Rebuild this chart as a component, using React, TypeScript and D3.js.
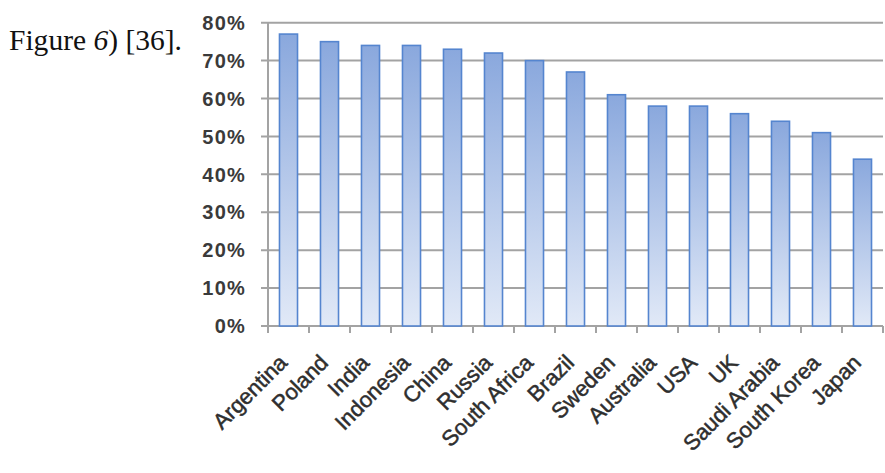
import React from "react";
import * as d3 from "d3";

const categories = [
  "Argentina", "Poland", "India", "Indonesia", "China", "Russia", "South Africa",
  "Brazil", "Sweden", "Australia", "USA", "UK", "Saudi Arabia", "South Korea", "Japan",
];
const values = [77, 75, 74, 74, 73, 72, 70, 67, 61, 58, 58, 56, 54, 51, 44];
const yTicks = [0, 10, 20, 30, 40, 50, 60, 70, 80];

const W = 885;
const H = 473;
const plot = { left: 268, right: 883, top: 22.7, bottom: 326 };

export default function App() {
  const x = d3
    .scaleBand<string>()
    .domain(categories)
    .range([plot.left, plot.right])
    .paddingInner(0.56)
    .paddingOuter(0.28);
  const step = (plot.right - plot.left) / categories.length;
  const y = d3.scaleLinear().domain([0, 80]).range([plot.bottom, plot.top]);

  const gridColor = "#a3a3a3";

  return (
    <svg
      width={W}
      height={H}
      style={{ position: "absolute", left: 0, top: 0, background: "#fff" }}
    >
      <defs>
        <linearGradient id="barFill" x1="0" y1="0" x2="0" y2="1">
          <stop offset="0%" stopColor="#8aa8dd" />
          <stop offset="100%" stopColor="#e1e9f7" />
        </linearGradient>
      </defs>

      <text
        x={9}
        y={50}
        fontFamily="'Liberation Serif', 'Times New Roman', serif"
        fontSize={29}
        textLength={173}
        lengthAdjust="spacingAndGlyphs"
        fill="#111"
      >
        Figure <tspan fontStyle="italic">6</tspan>) [36].
      </text>

      {/* horizontal gridlines and left ticks */}
      {yTicks.map((t) => (
        <line
          key={`g${t}`}
          x1={plot.left - 7}
          x2={plot.right}
          y1={y(t)}
          y2={y(t)}
          stroke={gridColor}
          strokeWidth={2}
        />
      ))}

      {/* value axis line */}
      <line
        x1={plot.left}
        x2={plot.left}
        y1={y(80)}
        y2={y(0)}
        stroke={gridColor}
        strokeWidth={2}
      />

      {/* category ticks */}
      {d3.range(categories.length + 1).map((i) => (
        <line
          key={`t${i}`}
          x1={plot.left + i * step}
          x2={plot.left + i * step}
          y1={y(0)}
          y2={y(0) + 7}
          stroke={gridColor}
          strokeWidth={2}
        />
      ))}

      {/* bars */}
      {categories.map((c, i) => (
        <rect
          key={c}
          x={x(c)}
          y={y(values[i])}
          width={x.bandwidth()}
          height={y(0) - y(values[i])}
          fill="url(#barFill)"
          stroke="#5585cf"
          strokeWidth={1.6}
        />
      ))}

      {/* value labels */}
      {yTicks.map((t) => (
        <text
          key={`l${t}`}
          x={246}
          y={y(t)}
          dy="0.36em"
          textAnchor="end"
          fontFamily="'Liberation Sans', Arial, sans-serif"
          fontWeight="bold"
          fontSize={20}
          letterSpacing={1.2}
          fill="#3a3a3a"
        >
          {`${t}%`}
        </text>
      ))}

      {/* category labels */}
      {categories.map((c) => (
        <text
          key={`c${c}`}
          transform={`translate(${(x(c) as number) + x.bandwidth() / 2},${y(0) + 38}) rotate(-45)`}
          textAnchor="end"
          fontFamily="'Liberation Sans', Arial, sans-serif"
          fontSize={22}
          fill="#2e2e2e"
          stroke="#2e2e2e"
          strokeWidth={0.5}
        >
          {c}
        </text>
      ))}
    </svg>
  );
}
